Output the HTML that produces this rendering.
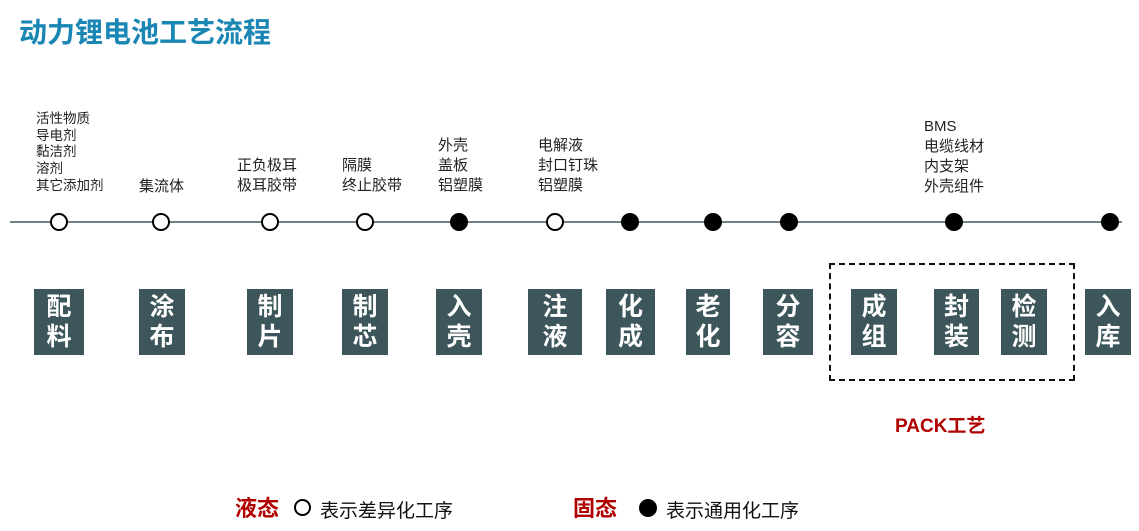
<!DOCTYPE html>
<html><head><meta charset="utf-8"><style>
body{margin:0;width:1139px;height:531px;background:#fff;position:relative;overflow:hidden;font-family:"Liberation Sans","Noto Sans CJK SC",sans-serif}
.a{position:absolute;white-space:nowrap}
.t{font-size:28px;font-weight:bold;color:#1a86b4;left:19px;top:11px}
.l{font-size:15px;line-height:20px;color:#222}
.s{font-size:13.5px;line-height:16.7px;color:#222}
.b{position:absolute;top:289px;height:66px;background:#3d565b;color:#fff;font-weight:bold;font-size:25px;line-height:30px;text-align:center;padding-top:3px;box-sizing:border-box}
.c{position:absolute;border-radius:50%;border:2px solid #000;background:#fff;top:213px;box-sizing:border-box;width:18px;height:18px}
.f{background:#000}
</style></head><body>
<div class="a t">动力锂电池工艺流程</div>
<div style="position:absolute;left:10px;top:221px;width:1112px;height:2px;background:#6f8086"></div>
<div class="a s" style="left:36px;top:111px">活性物质<br>导电剂<br>黏洁剂<br>溶剂<br>其它添加剂</div>
<div class="a l" style="left:139px;top:177px">集流体</div>
<div class="a l" style="left:237px;top:156px">正负极耳<br>极耳胶带</div>
<div class="a l" style="left:342px;top:156px">隔膜<br>终止胶带</div>
<div class="a l" style="left:438px;top:136px">外壳<br>盖板<br>铝塑膜</div>
<div class="a l" style="left:538px;top:136px">电解液<br>封口钉珠<br>铝塑膜</div>
<div class="a l" style="left:924px;top:117px">BMS<br>电缆线材<br>内支架<br>外壳组件</div>
<div class="c" style="left:50px"></div>
<div class="c" style="left:152px"></div>
<div class="c" style="left:261px"></div>
<div class="c" style="left:356px"></div>
<div class="c f" style="left:450px"></div>
<div class="c" style="left:546px"></div>
<div class="c f" style="left:621px"></div>
<div class="c f" style="left:704px"></div>
<div class="c f" style="left:780px"></div>
<div class="c f" style="left:945px"></div>
<div class="c f" style="left:1101px"></div>
<div class="b" style="left:34px;width:50px">配<br>料</div>
<div class="b" style="left:139px;width:46px">涂<br>布</div>
<div class="b" style="left:247px;width:46px">制<br>片</div>
<div class="b" style="left:342px;width:46px">制<br>芯</div>
<div class="b" style="left:436px;width:46px">入<br>壳</div>
<div class="b" style="left:528px;width:54px">注<br>液</div>
<div class="b" style="left:606px;width:49px">化<br>成</div>
<div class="b" style="left:686px;width:44px">老<br>化</div>
<div class="b" style="left:763px;width:50px">分<br>容</div>
<div class="b" style="left:851px;width:46px">成<br>组</div>
<div class="b" style="left:934px;width:45px">封<br>装</div>
<div class="b" style="left:1001px;width:46px">检<br>测</div>
<div class="b" style="left:1085px;width:46px">入<br>库</div>
<div style="position:absolute;left:829px;top:263px;width:246px;height:118px;border:2px dashed #111;box-sizing:border-box"></div>
<div class="a" style="left:895px;top:411px;font-size:19px;font-weight:bold;color:#b00000">PACK工艺</div>
<div class="a" style="left:235px;top:491px;font-size:22px;font-weight:bold;color:#b00000">液态</div>
<div style="position:absolute;left:294px;top:499px;width:17px;height:17px;border:2px solid #000;border-radius:50%;box-sizing:border-box"></div>
<div class="a" style="left:320px;top:496px;font-size:19px;color:#111">表示差异化工序</div>
<div class="a" style="left:573px;top:491px;font-size:22px;font-weight:bold;color:#b00000">固态</div>
<div style="position:absolute;left:639px;top:499px;width:18px;height:18px;background:#000;border-radius:50%"></div>
<div class="a" style="left:666px;top:496px;font-size:19px;color:#111">表示通用化工序</div>
</body></html>
